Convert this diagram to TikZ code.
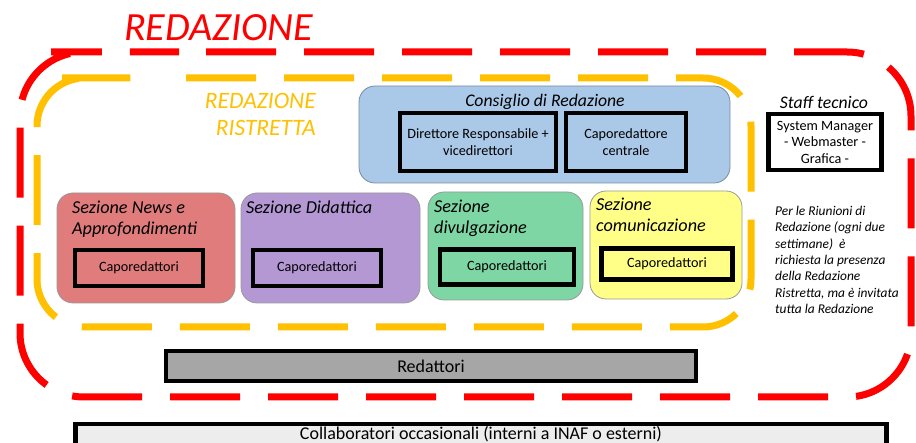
\documentclass[tikz,border=0pt]{standalone}
\usepackage{fontspec}
\setmainfont{Carlito}
\usetikzlibrary{positioning}
\definecolor{rossored}{RGB}{255,0,0}
\definecolor{giallored}{RGB}{255,192,0}
\definecolor{consiglio}{RGB}{170,200,232}
\definecolor{news}{RGB}{224,124,124}
\definecolor{didattica}{RGB}{180,152,212}
\definecolor{divulga}{RGB}{126,214,164}
\definecolor{comunica}{RGB}{255,255,136}
\newcommand\fsz[2]{\fontsize{#1}{#2}\selectfont}
\tikzset{
  fs/.style={font=\fsz{#1}{#1}},
  titolo/.style={font=\fsz{#1}{#1}\itshape,inner sep=0pt},
  sezbox/.style={draw=gray!80,line width=0.8pt,rounded corners=16pt},
  capobox/.style={draw=black,line width=4.5pt,inner sep=0pt,align=center,font=\fsz{14.2}{17}},
  tratteggio/.style={line width=7pt,dash pattern=on 70pt off 28pt},
}
\begin{document}
\begin{tikzpicture}[x=1pt,y=-1pt]
\useasboundingbox (0,0) rectangle (916,443);
% redazione e redazione ristretta
\draw[rossored,tratteggio,dash phase=71pt,rounded corners=64pt](115,52)--(911,52)--(911,397)--(20,397)--(20,52)--cycle;
\draw[giallored,tratteggio,dash phase=70pt,rounded corners=48pt](110,78)--(751,78)--(751,327)--(37,327)--(37,78)--cycle;
\node[rossored,titolo=40,anchor=west](redazione) at (124,28){REDAZIONE};
\node[giallored,anchor=north east,align=right,inner sep=0pt,font=\fsz{23.5}{27}\itshape](ristretta) at (316,93){REDAZIONE\\RISTRETTA};
%
% consiglio di redazione
\draw[sezbox,fill=consiglio,draw=consiglio!70!black](359,86) rectangle (730,183);
\node[titolo=17.7](consigliotit) at (545,102){Consiglio di Redazione};
\node[capobox,minimum width=156pt,minimum height=58pt,fill=consiglio](direttore) at (478,142){Direttore Responsabile +\\vicedirettori};
\node[capobox,minimum width=120pt,minimum height=58pt,fill=consiglio](caporedc) at (626,142){Caporedattore\\centrale};
%
% staff tecnico
\node[titolo=17.7](stafftit) at (824,102){Staff tecnico};
\node[capobox,minimum width=113pt,minimum height=56pt,fill=white,font=\fsz{14.2}{16.5}](staff) at (825,142){System Manager\\- Webmaster -\\Grafica -};
%
% sezioni
\draw[sezbox,fill=news](57,193) rectangle (235,303);
\node[anchor=north west,align=left,inner sep=0pt,font=\fsz{18.2}{20.5}\itshape](newstit) at (72,201){Sezione News e\\Approfondimenti};
\node[capobox,minimum width=128pt,minimum height=36pt,fill=news](newscapo) at (139,268){Caporedattori};
%
\draw[sezbox,fill=didattica](241,193) rectangle (420,303);
\node[titolo=18.2,anchor=north west](didtit) at (246,201){Sezione Didattica};
\node[capobox,minimum width=128pt,minimum height=36pt,fill=didattica](didcapo) at (317,268){Caporedattori};
%
\draw[sezbox,fill=divulga](428,192) rectangle (583,300);
\node[anchor=north west,align=left,inner sep=0pt,font=\fsz{18.2}{20.5}\itshape](divtit) at (434,200){Sezione\\divulgazione};
\node[capobox,minimum width=134pt,minimum height=35pt,fill=divulga](divcapo) at (507,267){Caporedattori};
%
\draw[sezbox,fill=comunica](590,191) rectangle (742,299);
\node[anchor=north west,align=left,inner sep=0pt,font=\fsz{18.2}{20.5}\itshape](comtit) at (596,198){Sezione\\comunicazione};
\node[capobox,minimum width=131pt,minimum height=31pt,fill=comunica](comcapo) at (667,264){Caporedattori};
%
% nota
\node[anchor=north west,align=left,inner sep=0pt,font=\fsz{13.4}{16.3}\itshape](nota) at (775,206){Per le Riunioni di\\Redazione (ogni due\\settimane)\ \ è\\richiesta la presenza\\della Redazione\\Ristretta, ma è invitata\\tutta la Redazione};
%
% redattori e collaboratori
\node[capobox,minimum width=530pt,minimum height=30pt,fill=gray!70,font=\fsz{18}{18}](redattori) at (431,366){Redattori};
\node[capobox,anchor=north,minimum width=811pt,minimum height=40pt,fill=gray!14,font=\fsz{18}{18},text depth=23pt](collab) at (481,422){Collaboratori occasionali (interni a INAF o esterni)};
\end{tikzpicture}
\end{document}
